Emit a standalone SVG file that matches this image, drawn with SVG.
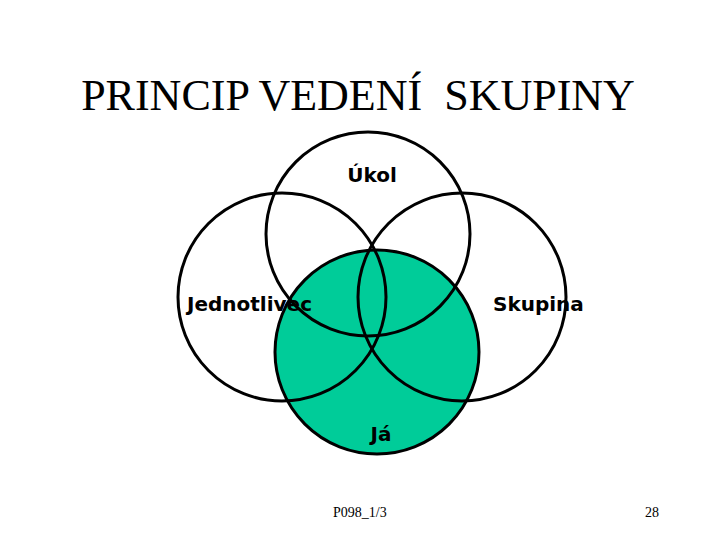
<svg xmlns="http://www.w3.org/2000/svg" width="720" height="540" viewBox="0 0 720 540">
<style>
.c{fill:none;stroke:#000;stroke-width:3}
.t{font-family:"Liberation Serif","Times New Roman",serif;fill:#000}
.l{font-family:"DejaVu Sans",Verdana,sans-serif;font-weight:bold;font-size:20px;fill:#000}
</style>
<rect width="720" height="540" fill="#fff"/>
<text class="t" x="358" y="110" font-size="44" text-anchor="middle" xml:space="preserve">PRINCIP VEDENÍ  SKUPINY</text>
<g id="ja"><circle cx="377" cy="352" r="102" fill="#00CC99" stroke="#000" stroke-width="3"/></g>
<g id="ukol"><circle class="c" cx="368" cy="234" r="102"/></g>
<g id="jednotlivec"><circle class="c" cx="282" cy="297" r="104"/></g>
<g id="skupina"><circle class="c" cx="462" cy="297" r="104"/></g>
<text class="l" x="372" y="182" text-anchor="middle">Úkol</text>
<text class="l" x="187" y="311">Jednotlivec</text>
<text class="l" x="493" y="311">Skupina</text>
<text class="l" x="381" y="441" text-anchor="middle">Já</text>
<text class="t" x="333" y="517" font-size="14">P098_1/3</text>
<text class="t" x="645" y="517" font-size="14">28</text>
</svg>
